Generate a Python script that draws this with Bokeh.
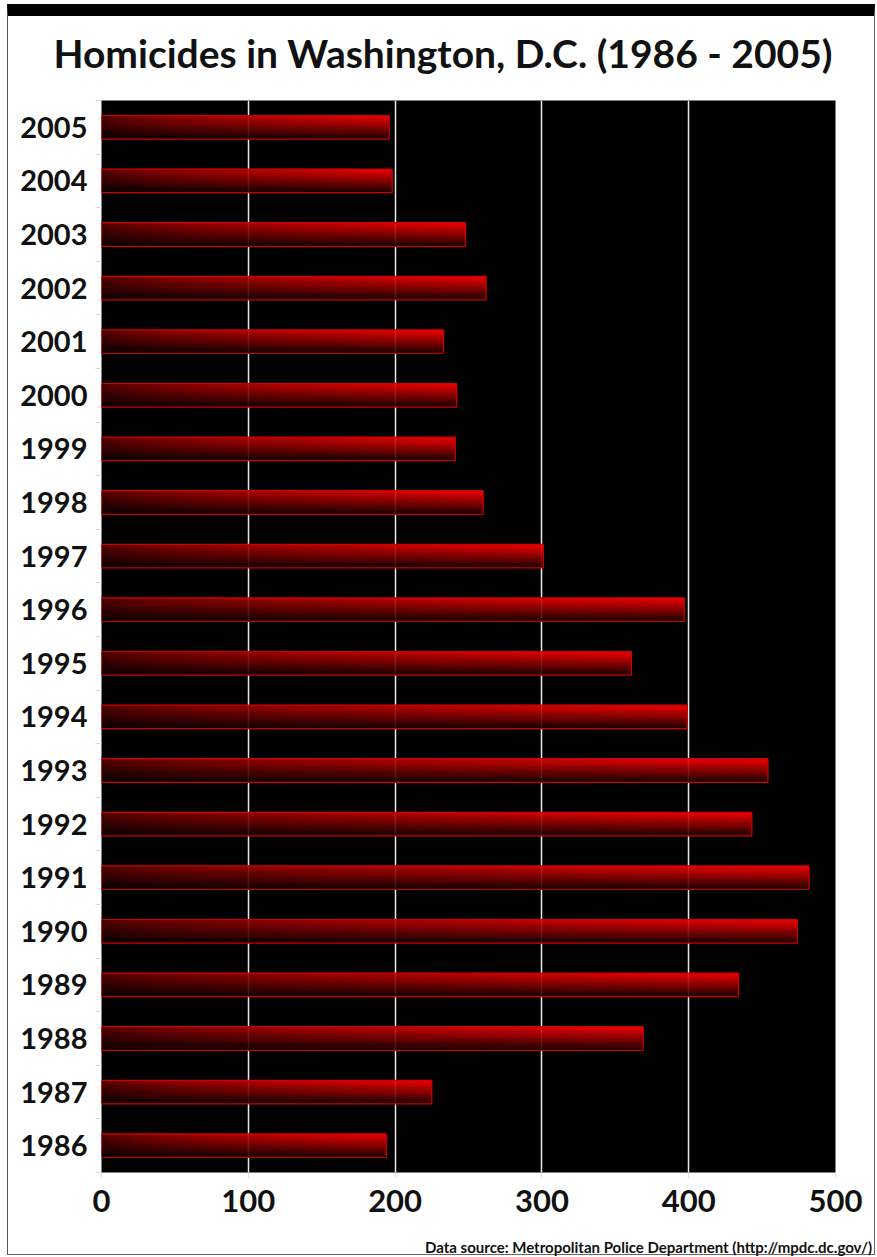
import numpy as np
from bokeh.plotting import figure
from bokeh.models import Range1d, FixedTicker, Div
from bokeh.layouts import column
from bokeh.embed import file_html
from bokeh.resources import INLINE

# ---- data ----
years = [1986, 1987, 1988, 1989, 1990, 1991, 1992, 1993, 1994, 1995,
         1996, 1997, 1998, 1999, 2000, 2001, 2002, 2003, 2004, 2005]
homicides = [194, 225, 369, 434, 474, 482, 443, 454, 399, 361,
             397, 301, 260, 241, 242, 233, 262, 248, 198, 196]
x_ticks = [0, 100, 200, 300, 400, 500]
title_text = "Homicides in Washington, D.C. (1986 - 2005)"
source_text = "Data source: Metropolitan Police Department (http://mpdc.dc.gov/)"

FONT = "Lato"
BAR_H = 0.44
W = 877

# ---- gradient image shared by every bar (dark left/bottom, bright red right/top) ----
ny, nx = 40, 300
v = np.linspace(0, 1, ny)[:, None]          # 0 = bottom, 1 = top
t = np.linspace(0, 1, nx)[None, :]          # 0 = left, 1 = right
vert = 0.08 + 0.92 * v ** 0.9
horiz = 0.32 + 0.68 * t ** 0.6
red = np.clip(270 * vert * horiz, 0, 255).astype(np.uint8)
grad = np.zeros((ny, nx), dtype=np.uint32)
view = grad.view(dtype=np.uint8).reshape((ny, nx, 4))
view[..., 0] = red
view[..., 3] = 255

idx = list(range(len(years)))

p = figure(width=W, height=1237,
           x_range=Range1d(0, 500), y_range=Range1d(-0.5, len(years) - 0.5),
           output_backend="svg", toolbar_location=None,
           min_border_left=101, min_border_right=42,
           min_border_top=100, min_border_bottom=65,
           background_fill_color="black", border_fill_color="white",
           border_fill_alpha=0, outline_line_color=None)

# title
p.title.text = title_text
p.title.text_font = FONT
p.title.text_font_style = "bold"
p.title.text_font_size = "39px"
p.title.text_color = "#111111"
p.title.align = "left"
p.title.offset = -48
p.title.standoff = 50

# bars: gradient images + red rim
p.image_rgba(image=[grad] * len(years), x=[0] * len(years),
             y=[i - BAR_H / 2 for i in idx], dw=homicides,
             dh=[BAR_H] * len(years), global_alpha=0.9)
p.hbar(y=idx, left=0, right=homicides, height=BAR_H,
       fill_alpha=0, line_color="#d00000", line_width=1.2)

# grid
p.ygrid.visible = False
p.xgrid.ticker = FixedTicker(ticks=x_ticks)
p.xgrid.grid_line_color = "#e8e8e8"
p.xgrid.grid_line_width = 1.5

# x axis
p.xaxis.ticker = FixedTicker(ticks=x_ticks)
p.xaxis.axis_line_color = None
p.xaxis.major_tick_line_color = "#dddddd"
p.xaxis.major_tick_out = 5
p.xaxis.major_tick_in = 0
p.xaxis.minor_tick_line_color = None
p.xaxis.major_label_standoff = 12
p.xaxis.major_label_text_font = FONT
p.xaxis.major_label_text_font_style = "bold"
p.xaxis.major_label_text_font_size = "31px"
p.xaxis.major_label_text_color = "#111111"

# y axis
p.yaxis.ticker = FixedTicker(ticks=idx, minor_ticks=[i - 0.5 for i in range(len(years) + 1)])
p.yaxis.major_label_overrides = {i: str(y) for i, y in zip(idx, years)}
p.yaxis.axis_line_color = None
p.yaxis.major_tick_line_color = None
p.yaxis.major_tick_out = 0
p.yaxis.minor_tick_line_color = "#d8d8d8"
p.yaxis.minor_tick_out = 6
p.yaxis.minor_tick_in = 0
p.yaxis.major_label_standoff = 8
p.yaxis.major_label_text_font = FONT
p.yaxis.major_label_text_font_style = "bold"
p.yaxis.major_label_text_font_size = "29px"
p.yaxis.major_label_text_color = "#111111"

# picture frame: thick black band on top, thin grey lines on the other sides
# (the chart below is drawn over the same space, its border area transparent)
frame_div = Div(width=868, height=1251, margin=(4, 0, -1255, 7),
                styles={"box-sizing": "border-box",
                        "border-top": "12px solid black",
                        "border-left": "1px solid #555555",
                        "border-right": "1px solid #666666",
                        "border-bottom": "1px solid #666666"})

# data source note under the chart
source = Div(text=source_text, width=872, height=20, margin=0,
             styles={"font-family": FONT, "font-weight": "bold",
                     "font-size": "15px", "line-height": "20px",
                     "text-align": "right", "color": "#111111"})

layout = column(frame_div, p, source, spacing=0)

open("out.html", "w").write(file_html(layout, INLINE))
